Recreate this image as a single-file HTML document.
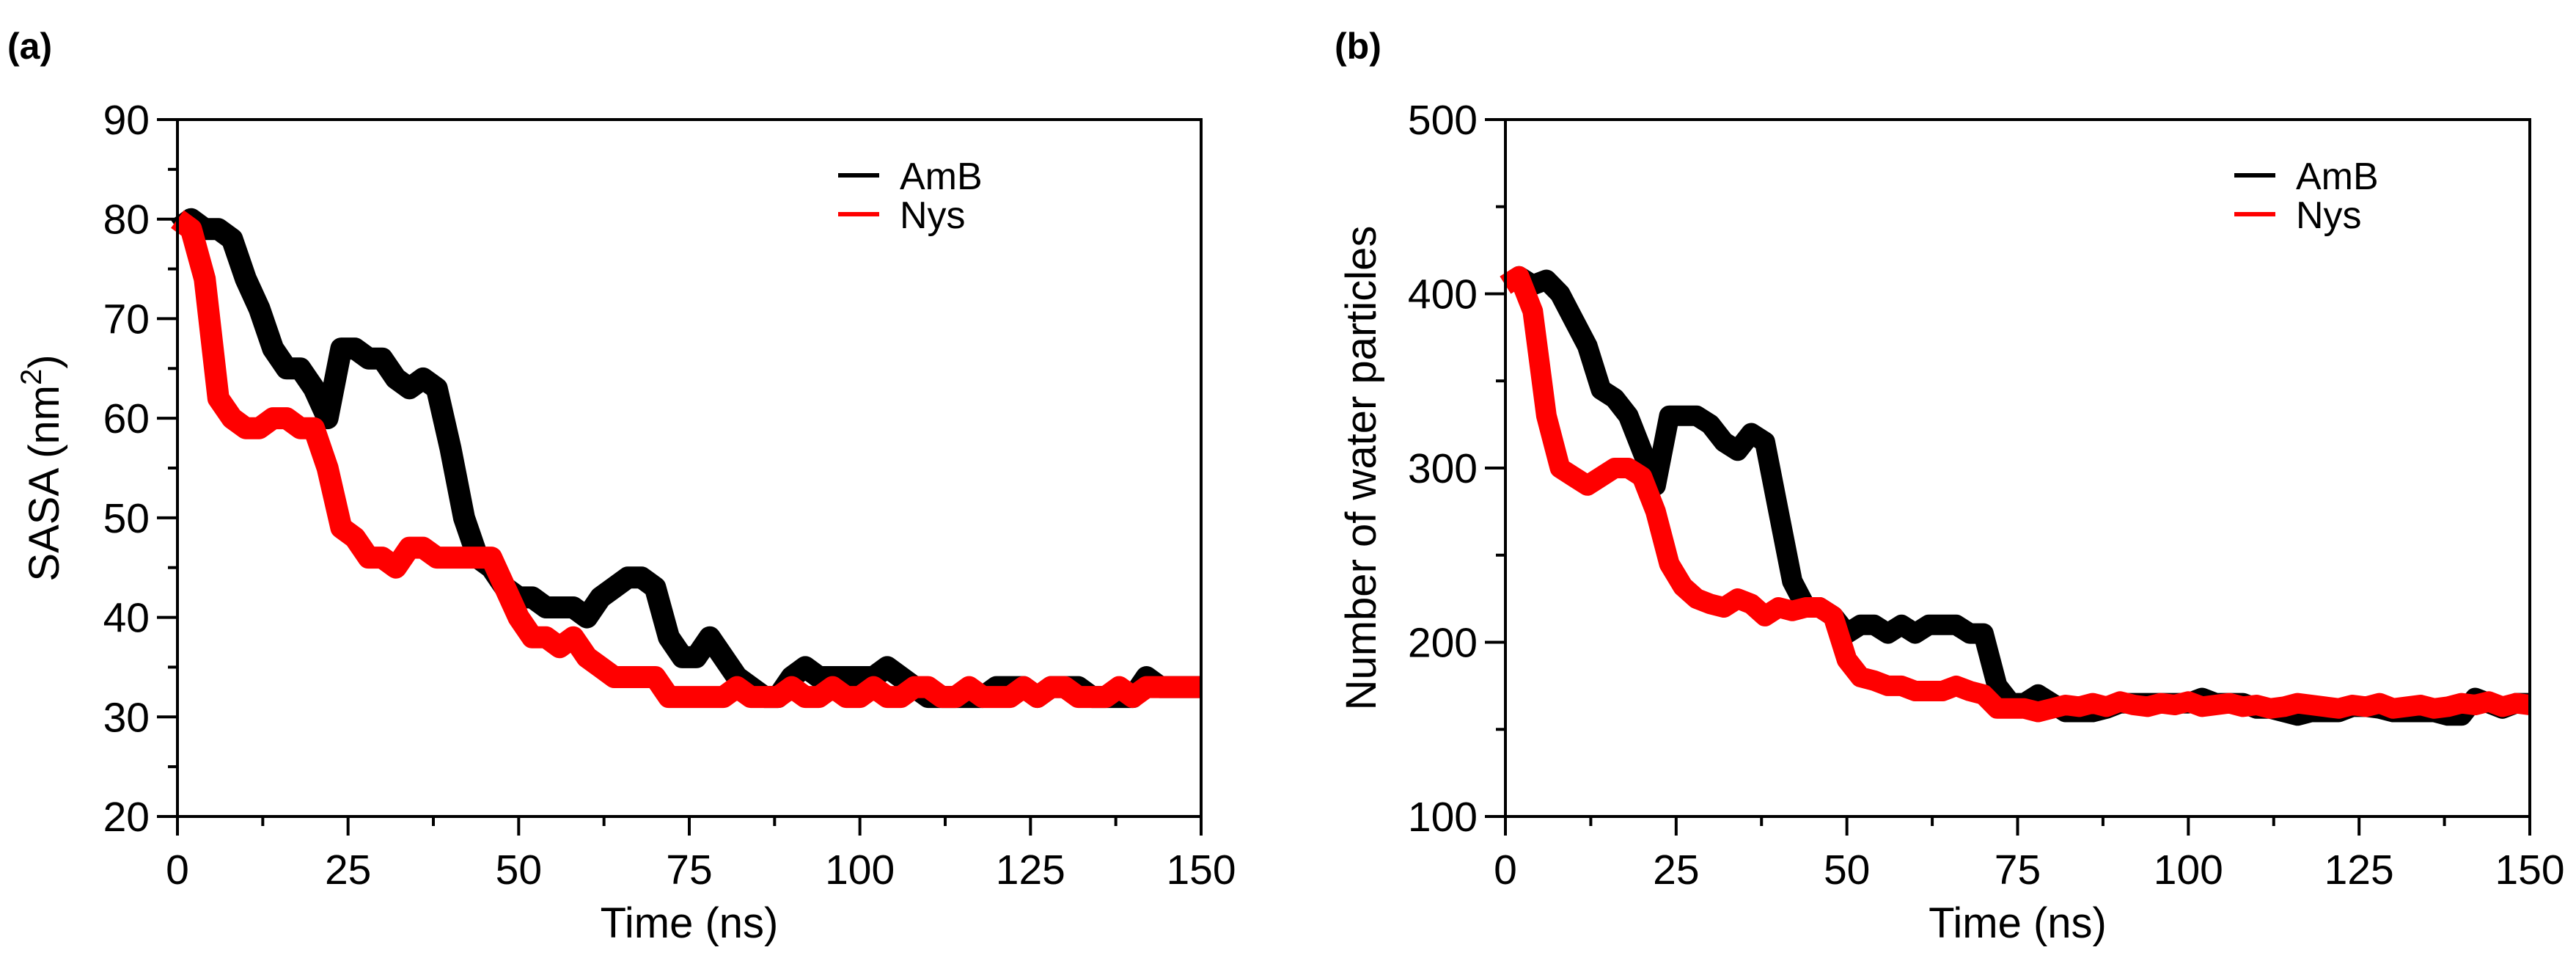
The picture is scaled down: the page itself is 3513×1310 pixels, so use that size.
<!DOCTYPE html>
<html><head><meta charset="utf-8"><style>
html,body{margin:0;padding:0;background:#fff;}
svg{display:block;font-family:"Liberation Sans",Arial,sans-serif;}
</style></head><body>
<svg id="fig" width="3513" height="1310" viewBox="0 0 3513 1310" xmlns="http://www.w3.org/2000/svg">
<text x="10" y="80" font-size="50" font-weight="bold">(a)</text>
<text x="1820" y="80" font-size="50" font-weight="bold">(b)</text>
</svg>
<script>
const timeNs = [0,2,4,6,8,10,12,14,16,18,20,22,24,26,28,30,32,34,36,38,40,42,44,46,48,50,52,54,56,58,60,62,64,66,68,70,72,74,76,78,80,82,84,86,88,90,92,94,96,98,100,102,104,106,108,110,112,114,116,118,120,122,124,126,128,130,132,134,136,138,140,142,144,146,148,150];
const sasaAmB = [79,80,79,79,78,74,71,67,65,65,63,60,67,67,66,66,64,63,64,63,57,50,46,45,43,42,42,41,41,41,40,42,43,44,44,43,38,36,36,38,36,34,33,32,32,34,35,34,34,34,34,34,35,34,33,32,32,32,32,32,33,33,33,32,33,33,33,32,32,32,32,34,33,33,33,33];
const sasaNys = [80,79,74,62,60,59,59,60,60,59,59,55,49,48,46,46,45,47,47,46,46,46,46,46,43,40,38,38,37,38,36,35,34,34,34,34,32,32,32,32,32,33,32,32,32,33,32,32,33,32,32,33,32,32,33,33,32,32,33,32,32,32,33,32,33,33,32,32,32,33,32,33,33,33,33,33];
const waterAmB = [405,410,405,408,400,385,370,345,340,330,310,290,330,330,330,325,315,310,320,315,275,235,220,220,215,205,210,210,205,210,205,210,210,210,205,205,175,165,165,170,165,160,160,160,162,165,165,165,165,165,165,168,165,165,165,162,162,160,158,160,160,160,163,163,162,160,160,160,160,158,158,168,165,162,165,165];
const waterNys = [405,410,390,330,300,295,290,295,300,300,295,275,245,232,225,222,220,225,222,215,220,218,220,220,215,190,180,178,175,175,172,172,172,175,172,170,162,162,162,160,162,164,163,165,163,166,164,163,165,164,166,163,164,165,163,164,162,163,165,164,163,162,164,163,165,162,163,164,162,163,165,164,166,163,165,164];
const xTicks = [0,25,50,75,100,125,150];
const sasaTicks = [20,30,40,50,60,70,80,90];
const waterTicks = [100,200,300,400,500];
const legendLabels = ["AmB","Nys"];

const NS="http://www.w3.org/2000/svg";
const svg=document.getElementById('fig');
function mk(tag,attrs,parent){const e=document.createElementNS(NS,tag);for(const k in attrs)e.setAttribute(k,attrs[k]);(parent||svg).appendChild(e);return e;}

function panel(id,L,R,T,B,ymin,ymax,yTicks,yMinorStep,series,ytitle,ytitleX,legX,band){
  const g=mk('g',{});
  
  
  const sx=v=>L+(v-0)/(150-0)*(R-L);
  const sy=v=>B-(v-ymin)/(ymax-ymin)*(B-T);
  // series
  series.forEach((s,si)=>{
    const pts=timeNs.map((t,i)=>sx(t).toFixed(1)+','+sy(s.vals[i]).toFixed(1)).join(' ');
    const pl=mk('polyline',{points:pts,fill:'none',stroke:s.color,'stroke-width':band,'stroke-linejoin':'round','stroke-linecap':'butt'},g);
    
    
  });
  // frame
  const fr=mk('rect',{x:L,y:T,width:R-L,height:B-T,fill:'none',stroke:'#000','stroke-width':4},g);
  
  
  // x ticks
  for(let v=0;v<=150;v+=12.5){
    const major=(v%25===0);
    mk('line',{x1:sx(v),x2:sx(v),y1:B,y2:B+(major?26:13),stroke:'#000','stroke-width':4},g);
  }
  xTicks.forEach(v=>{
    const t=mk('text',{x:sx(v),y:B+92,'font-size':57,'text-anchor':'middle'},g);
    t.textContent=v;
    
    
  });
  for(let v=ymin;v<=ymax+1e-9;v+=yMinorStep){
    const major=yTicks.some(m=>Math.abs(m-v)<1e-6);
    mk('line',{x1:L,x2:L-(major?28:13),y1:sy(v),y2:sy(v),stroke:'#000','stroke-width':4},g);
  }
  yTicks.forEach(v=>{
    const t=mk('text',{x:L-38,y:sy(v)+20,'font-size':57,'text-anchor':'end'},g);
    t.textContent=v;
    
    
  });
  const xt=mk('text',{x:(L+R)/2,y:1278,'font-size':58,'text-anchor':'middle'},g);
  xt.textContent='Time (ns)';
  
  
  const yt=mk('text',{x:0,y:0,'font-size':58,'text-anchor':'middle',transform:`translate(${ytitleX},${(T+B)/2}) rotate(-90)`},g);
  yt.innerHTML=ytitle;
  
  
  // legend
  series.forEach((s,si)=>{
    const ly=239+si*53;
    const ll=mk('line',{x1:legX,x2:legX+56,y1:ly,y2:ly,stroke:s.color,'stroke-width':6},g);
    
    
    const lt=mk('text',{x:legX+84,y:ly+19,'font-size':52},g);
    lt.textContent=legendLabels[si];
    
    
  });
}
panel('sasa',242,1638,163,1113,20,90,sasaTicks,5,
  [{name:'AmB',vals:sasaAmB,color:'#000'},{name:'Nys',vals:sasaNys,color:'#f00'}],
  'SASA (nm<tspan dy="-24" font-size="40">2</tspan><tspan dy="24">)</tspan>',80,1143,30);
panel('water',2053,3450,163,1113,100,500,waterTicks,50,
  [{name:'AmB',vals:waterAmB,color:'#000'},{name:'Nys',vals:waterNys,color:'#f00'}],
  'Number of water particles',1876,3047,28);
</script>
</body></html>
